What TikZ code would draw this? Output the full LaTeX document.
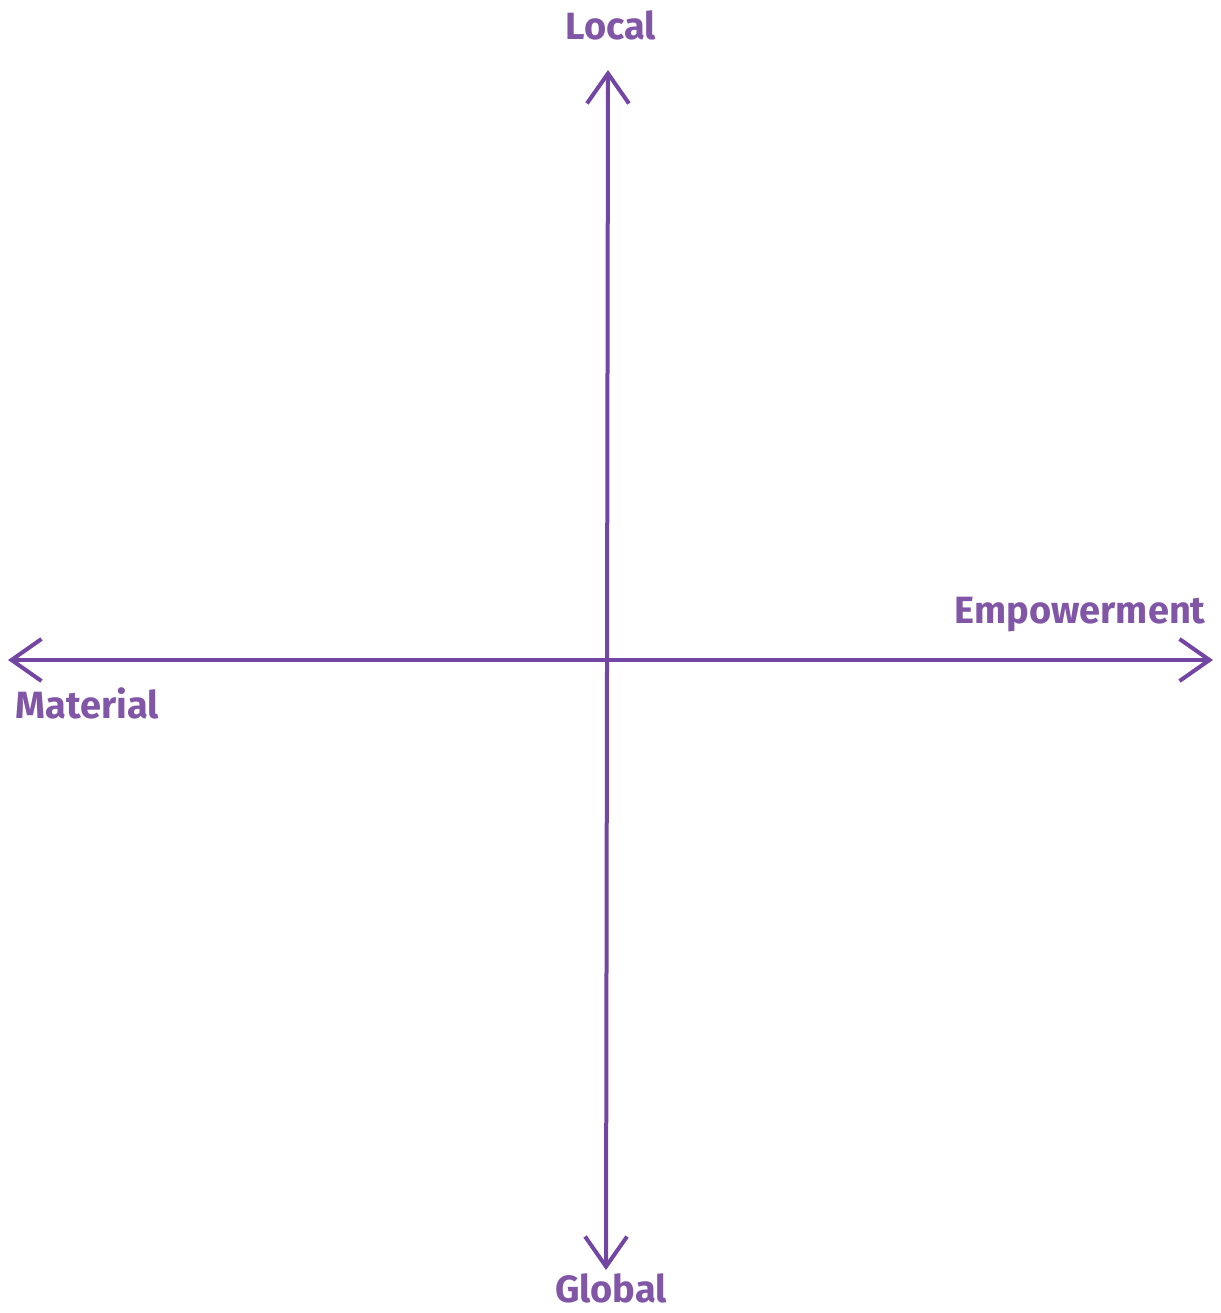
\documentclass[tikz,border=0pt]{standalone}
\usepackage{fontspec}
\setmainfont{Fira Sans}
\usetikzlibrary{arrows.meta}
\definecolor{axispurple}{HTML}{7446A3}
\definecolor{labelpurple}{HTML}{8156A6}
\begin{document}
\begin{tikzpicture}[x=0.5pt, y=-0.5pt,
    axis/.style={draw=axispurple, line width=2pt, line cap=round,
      {Straight Barb[length=15pt, width=21pt, line width=2pt]}-{Straight Barb[length=15pt, width=21pt, line width=2pt]}},
    axislabel/.style={text=labelpurple, font=\fontsize{19}{21}\selectfont\bfseries, inner sep=0pt}]
  			% canvas of the reference
			\useasboundingbox (0,0) rectangle (1221,1313);
			\coordinate (local) at (608, 70);
			\coordinate (global) at (606, 1270);
			\coordinate (material) at (8, 660);
			\coordinate (empower) at (1213, 660);
  			% the two axes
			\draw[axis] (global) -- (local);
			\draw[axis] (material) -- (empower);
  			% axis names
			\node[axislabel] (lbl-local) at (611, 25) {Local};
			\node[axislabel, anchor=base] (lbl-global) at (611, 1302) {Global};
			\node[axislabel, anchor=east] (lbl-empower) at (1206, 615) {Empowerment};
			\node[axislabel, anchor=west] (lbl-material) at (15, 703) {Material};
			\end{tikzpicture}
\end{document}
